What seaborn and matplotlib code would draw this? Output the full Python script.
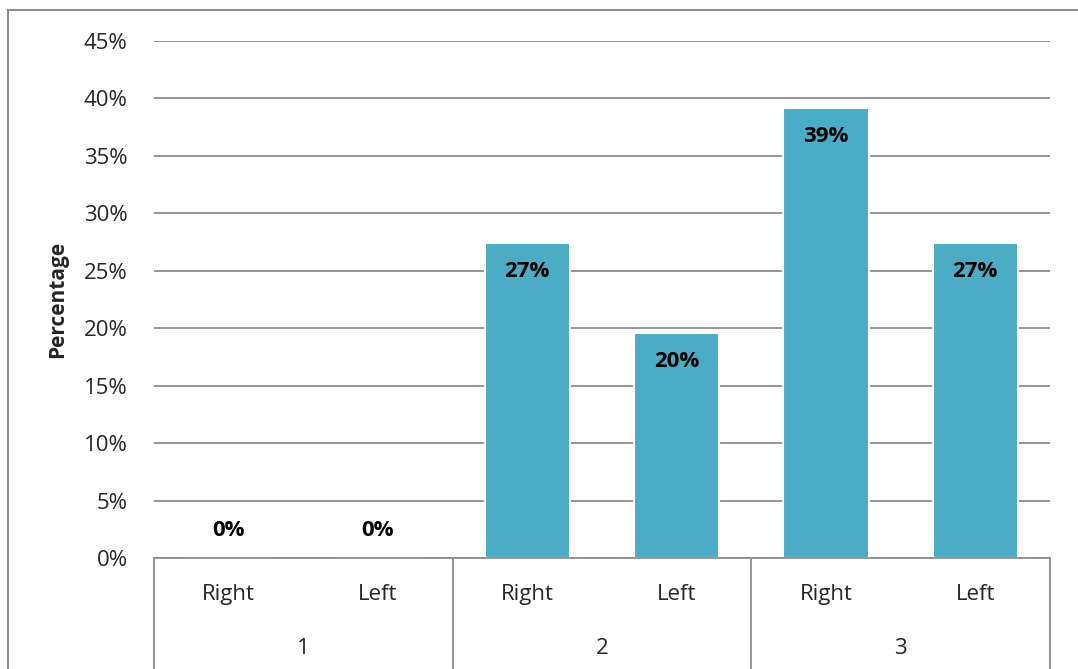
import matplotlib
matplotlib.use("Agg")
import matplotlib.pyplot as plt
import matplotlib.patches as patches
import numpy as np
import pandas as pd
import seaborn as sns

# values
groups = ["1", "1", "2", "2", "3", "3"]
sides = ["Right", "Left", "Right", "Left", "Right", "Left"]
values = [0.0, 0.0, 27.4, 19.6, 39.2, 27.4]
labels = ["0%", "0%", "27%", "20%", "39%", "27%"]
yticks = [0, 5, 10, 15, 20, 25, 30, 35, 40, 45]

df = pd.DataFrame({"group": groups, "side": sides, "value": values})
df["pos"] = range(len(df))

sns.set_style("white")
plt.rcParams["font.family"] = ["Open Sans", "DejaVu Sans"]
fs = 16

fig = plt.figure(figsize=(10.78, 6.69), dpi=100)
ax = fig.add_axes([154 / 1078, 1 - 558 / 669, (1050 - 154) / 1078, (558 - 41) / 669])

bar_color = "#4BACC6"
sns.barplot(data=df, x="pos", y="value", color=bar_color, width=0.57,
            edgecolor="white", linewidth=1.5, saturation=1, ax=ax, native_scale=True)

ax.set_xlim(-0.5, len(df) - 0.5)
ax.set_ylim(0, 45)
ax.set_yticks(yticks)
ax.set_yticklabels([f"{t}%" for t in yticks], fontsize=fs)
ax.yaxis.grid(True, color="#8c8c8c", linewidth=1.3)
ax.set_axisbelow(True)
ax.tick_params(axis="y", length=0, pad=19)

for s in ["top", "right", "left"]:
    ax.spines[s].set_visible(False)
ax.spines["bottom"].set_color("#8c8c8c")
ax.spines["bottom"].set_linewidth(1.3)
ax.spines["bottom"].set_zorder(5)

# level 1 tick labels
ax.set_xticks(df["pos"])
ax.set_xticklabels(df["side"], fontsize=fs)
ax.tick_params(axis="x", length=0, pad=19)
ax.set_xlabel("")
ax.set_ylabel("Percentage", fontsize=fs - 1, fontweight="bold")
ax.yaxis.set_label_coords(-0.096, 0.5)

# group labels and separators
trans = matplotlib.transforms.blended_transform_factory(ax.transData, ax.transAxes)
group_names = df["group"].unique()
for g in group_names:
    p = df.loc[df["group"] == g, "pos"]
    ax.text(p.mean(), -0.176, g, transform=trans, ha="center", va="center", fontsize=fs)
bounds = [-0.5] + [df.loc[df["group"] == g, "pos"].max() + 0.5 for g in group_names]
for b in bounds:
    ax.plot([b, b], [0, -0.25], transform=trans, color="#8c8c8c", linewidth=1.3, clip_on=False)

# value labels
for p, v, lab in zip(df["pos"], df["value"], labels):
    y = v - 2.5 if v > 0 else 2.4
    ax.text(p, y, lab, ha="center", va="center", fontsize=fs, fontweight="bold", color="black")

# outer chart frame
fig.patches.append(patches.Rectangle((8 / 1078, -0.05), 1.2, 1 - 10 / 669 + 0.05,
                                     transform=fig.transFigure, fill=False,
                                     edgecolor="#8c8c8c", linewidth=1.5))

fig.savefig("out.png", dpi=100)
